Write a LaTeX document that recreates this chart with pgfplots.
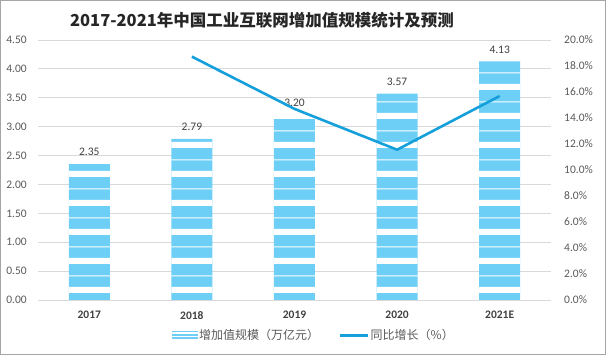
\documentclass[border=0pt]{standalone}
\usepackage{pgfplots}
\pgfplotsset{compat=1.18}
\usepackage{fontspec}
\setmainfont{Carlito}
\newfontfamily\cjk{Noto Sans CJK SC}
\usetikzlibrary{patterns.meta}
\definecolor{barblue}{HTML}{6DCFF6}
\definecolor{lineblue}{HTML}{15A0DB}
\definecolor{gridgray}{HTML}{D9D9D9}
\definecolor{tickgray}{HTML}{595959}
\definecolor{labgray}{HTML}{404040}
\definecolor{framegray}{HTML}{A6A6A6}
\tikzdeclarepattern{
  name=barstripes,
  type=uncolored,
  bounding box={(0pt,0pt) and (800pt,28.889pt)},
  tile size={(800pt,28.889pt)},
  code={
    \fill (0pt,5.2pt) rectangle (800pt,11.2pt);
    \fill (0pt,21.6pt) rectangle (800pt,22.6pt);
  }
}
\pgfplotsset{/pgf/number format/assume math mode=true}
\newcommand{\tickfont}{\fontsize{11.5}{13}\selectfont}
\begin{document}
\begin{tikzpicture}
\useasboundingbox (0pt,0pt) rectangle (606pt,355pt);
\draw[framegray, line width=1pt] (0.5pt,0.5pt) rectangle (605.5pt,354.5pt);
\node[font=\cjk\bfseries\fontsize{16.5}{18}\selectfont, text=black!85, inner sep=0pt] at (262pt,335pt) {2017-2021年中国工业互联网增加值规模统计及预测};
\begin{axis}[
  at={(38pt,55pt)}, anchor=south west,
  scale only axis, width=513pt, height=260pt,
  xmin=-0.5, xmax=4.5, ymin=0, ymax=4.5,
  ytick={0,0.5,1,1.5,2,2.5,3,3.5,4,4.5},
  xtick={0,1,2,3,4}, xticklabels={2017,2018,2019,2020,2021E},
  axis line style={draw=none}, major tick length=0pt,
  ymajorgrids, grid style={color=gridgray, line width=0.8pt},
  yticklabel style={anchor=east, inner sep=0pt, xshift=-11pt, font=\tickfont, text=tickgray,
    /pgf/number format/.cd, fixed, fixed zerofill, precision=2},
  xticklabel style={anchor=north, inner sep=0pt, yshift=-11pt, font=\tickfont\bfseries, text=labgray},
  legend style={at={(0.2615,-0.135)}, anchor=west, draw=none, fill=none, inner sep=0pt,
    legend columns=2, font=\cjk\fontsize{12}{14}\selectfont, text=tickgray,
    nodes={inner xsep=0.8pt},
    /tikz/every even column/.append style={column sep=19pt}},
  legend cell align=left,
]
\addplot[ybar, bar width=41pt, draw=none, fill=barblue,
  postaction={pattern={barstripes}, pattern color=white},
  nodes near coords,
  nodes near coords style={font=\tickfont, text=labgray, inner sep=0pt, yshift=8pt,
    /pgf/number format/.cd, fixed, fixed zerofill, precision=2},
  legend image code/.code={
    \fill[barblue] (-6pt,-4pt) rectangle (20pt,4pt);
    \fill[white] (-6pt,-1.7pt) rectangle (20pt,-1pt);
    \fill[white] (-6pt,1pt) rectangle (20pt,1.7pt);
  }]
  coordinates {(0,2.35) (1,2.79) (2,3.20) (3,3.57) (4,4.13)};
\addlegendentry{增加值规模（万亿元）}
\addlegendimage{lineblue, line width=3pt, legend image code/.code={\draw[lineblue, line width=3pt] (-7pt,0pt) -- (21pt,0pt);}}
\addlegendentry{同比增长（\%）}
\end{axis}
\begin{axis}[
  at={(38pt,55pt)}, anchor=south west,
  scale only axis, width=513pt, height=260pt,
  xmin=-0.5, xmax=4.5, ymin=0, ymax=20,
  axis x line=none, axis y line*=right,
  axis line style={draw=none}, major tick length=0pt,
  ytick={0,2,4,6,8,10,12,14,16,18,20},
  yticklabel={\pgfmathprintnumber[fixed,fixed zerofill,precision=1]{\tick}\%},
  yticklabel style={anchor=west, inner sep=0pt, xshift=13pt, font=\tickfont, text=tickgray},
]
\addplot[lineblue, line width=2.6pt, line join=round, no marks]
  coordinates {(1,18.72) (2,14.70) (3,11.56) (4,15.69)};
\end{axis}
\end{tikzpicture}
\end{document}
